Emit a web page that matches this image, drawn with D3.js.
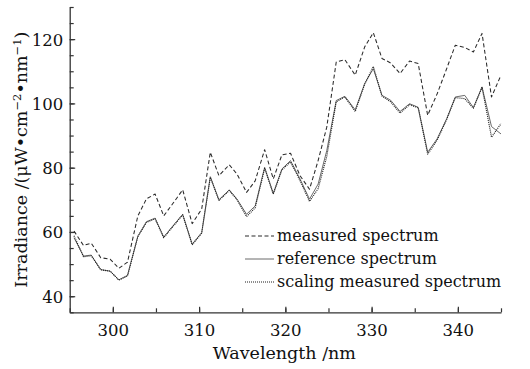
<!DOCTYPE html>
<html>
<head>
<meta charset="utf-8">
<script src="https://cdn.jsdelivr.net/npm/d3@7"></script>
<style>
  body { margin: 0; background: #fff; }
  svg text { font-family: "DejaVu Serif", "Liberation Serif", serif; fill: #111; }
</style>
</head>
<body>
<div id="chart"></div>
<script>
// wavelength (nm) of each sample
const wavelength = [295.5, 296.6, 297.5, 298.6, 299.7, 300.7, 301.7, 302.9, 303.9, 304.9,
  305.9, 307.0, 308.1, 309.2, 310.3, 311.3, 312.3, 313.5, 314.4, 315.5,
  316.5, 317.6, 318.6, 319.6, 320.6, 321.7, 322.8, 323.8, 324.8, 325.9,
  326.9, 328.1, 329.2, 330.2, 331.2, 332.2, 333.3, 334.4, 335.4, 336.5,
  337.6, 338.7, 339.7, 340.8, 341.8, 342.8, 343.9, 345.0];

const measured = [60.3, 55.8, 56.5, 52.0, 51.5, 48.7, 50.6, 65.0, 70.3, 71.8,
  65.0, 69.0, 73.1, 62.6, 67.1, 84.8, 77.5, 80.9, 78.0, 72.3,
  75.9, 85.6, 76.5, 84.0, 84.5, 77.5, 73.3, 82.2, 92.6, 112.9,
  113.6, 108.8, 117.6, 122.0, 114.0, 112.6, 109.3, 113.2, 112.4, 96.3,
  103.0, 110.8, 118.1, 117.4, 116.0, 121.8, 102.0, 108.8];

const reference = [58.2, 52.5, 52.8, 48.3, 47.8, 45.1, 46.5, 58.7, 63.2, 64.3,
  58.4, 62.0, 65.5, 56.2, 59.8, 77.2, 70.0, 73.1, 70.2, 65.5,
  68.1, 80.1, 72.0, 79.6, 82.2, 76.5, 70.2, 74.9, 85.3, 100.9,
  102.2, 98.0, 106.2, 110.8, 102.5, 101.0, 97.5, 99.9, 98.8, 84.8,
  89.0, 95.2, 102.0, 102.5, 98.7, 105.1, 92.8, 90.5];

const scaling = [58.8, 52.3, 52.6, 48.2, 47.8, 45.0, 46.3, 58.5, 63.0, 64.1,
  58.2, 61.8, 65.3, 56.0, 59.6, 77.0, 69.8, 72.9, 70.0, 64.8,
  67.5, 79.8, 71.8, 79.3, 81.8, 76.0, 69.5, 73.5, 83.5, 100.5,
  102.0, 97.5, 106.0, 111.5, 102.3, 100.5, 97.0, 99.6, 98.6, 84.2,
  88.6, 95.0, 101.8, 101.5, 98.5, 105.0, 89.5, 93.7];

const xTicks = [300, 310, 320, 330, 340];
const yTicks = [40, 60, 80, 100, 120];

const legendItems = [
  { name: "measured spectrum", values: measured, dash: "4,2.5", width: 1.05, color: "#2a2a2a" },
  { name: "reference spectrum", values: reference, dash: null, width: 0.9, color: "#5a5a5a" },
  { name: "scaling measured spectrum", values: scaling, dash: "1,1", width: 1.15, color: "#1e1e1e" }
];

const W = 530, H = 369;
const mLeft = 69.7, mRight = 501, mTop = 7, mBottom = 312.3;

const svg = d3.select("#chart").append("svg")
  .attr("width", W).attr("height", H);

const x = d3.scaleLinear().domain([295, 345]).range([mLeft, mRight]);
const y = d3.scaleLinear().domain([35, 130]).range([mBottom, mTop]);

// minor ticks every 5, major ones get labels
const xMinor = d3.range(295, 345.1, 5);
const yMinor = d3.range(35, 130.1, 5);

const xAxis = svg.append("g")
  .attr("transform", "translate(0," + mBottom + ")")
  .call(d3.axisBottom(x).tickValues(xMinor).tickSizeInner(-4).tickSizeOuter(0).tickFormat(""));
xAxis.append("g")
  .call(d3.axisBottom(x).tickValues(xTicks).tickSizeInner(-5.5).tickSizeOuter(0).tickFormat(d3.format("d")))
  .call(g => g.select(".domain").remove());
xAxis.selectAll("text")
  .attr("y", 24).attr("dy", 0)
  .style("font-size", "16.5px")
  .style("font-family", "DejaVu Serif")
  .attr("fill", "#111");

const yAxis = svg.append("g")
  .attr("transform", "translate(" + mLeft + ",0)")
  .call(d3.axisLeft(y).tickValues(yMinor).tickSizeInner(-4).tickSizeOuter(0).tickFormat(""));
yAxis.append("g")
  .call(d3.axisLeft(y).tickValues(yTicks).tickSizeInner(-5.5).tickSizeOuter(0).tickFormat(d3.format("d")))
  .call(g => g.select(".domain").remove());
yAxis.selectAll("text")
  .attr("x", -6.5).attr("dy", "0.36em")
  .style("font-size", "16.5px")
  .style("font-family", "DejaVu Serif")
  .attr("fill", "#111");

svg.selectAll(".domain").attr("stroke", "#333").attr("stroke-width", 1.3);
svg.selectAll(".tick line").attr("stroke", "#333").attr("stroke-width", 1.2);

// axis titles
svg.append("text")
  .attr("x", (mLeft + mRight) / 2 - 1).attr("y", 359)
  .attr("text-anchor", "middle")
  .style("font-size", "17.5px")
  .text("Wavelength /nm");

const yl = svg.append("text")
  .attr("transform", "translate(27," + ((mTop + mBottom) / 2) + ") rotate(-90)")
  .attr("text-anchor", "middle")
  .style("font-size", "17.5px");
yl.append("tspan").text("Irradiance /(\u03bcW\u2022cm");
yl.append("tspan").attr("dy", -6).style("font-size", "11.5px").text("\u22122");
yl.append("tspan").attr("dy", 6).text("\u2022nm");
yl.append("tspan").attr("dy", -6).style("font-size", "11.5px").text("\u22121");
yl.append("tspan").attr("dy", 6).text(")");

// spectra
const line = d3.line()
  .x((d, i) => x(wavelength[i]))
  .y(d => y(d));

legendItems.forEach(s => {
  svg.append("path")
    .datum(s.values)
    .attr("fill", "none")
    .attr("stroke", s.color)
    .attr("stroke-width", s.width)
    .attr("stroke-dasharray", s.dash)
    .attr("stroke-linejoin", "round")
    .attr("d", line);
});

// legend
const lg = svg.append("g");
const rows = lg.selectAll("g").data(legendItems).enter().append("g")
  .attr("transform", (d, i) => "translate(245," + (236 + i * 23) + ")");
rows.append("line")
  .attr("x1", 0).attr("x2", 29).attr("y1", 0).attr("y2", 0)
  .attr("stroke", d => d.color)
  .attr("stroke-width", d => d.width)
  .attr("stroke-dasharray", d => d.dash);
rows.append("text")
  .attr("x", 32).attr("y", 0).attr("dy", "0.33em")
  .style("font-size", "16px")
  .text(d => d.name);
</script>
</body>
</html>
